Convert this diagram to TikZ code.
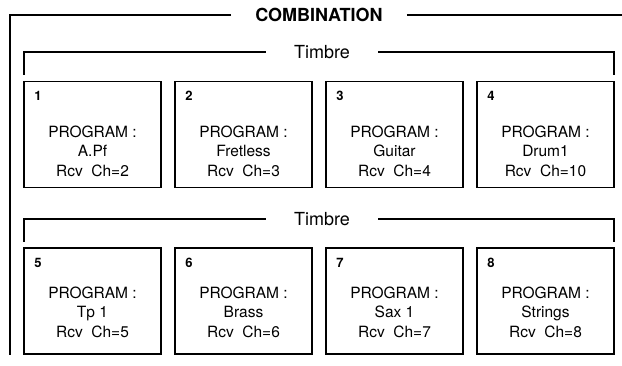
\documentclass[tikz,border=0pt]{standalone}
\usepackage{fontspec}
\setmainfont{TeX Gyre Heros}
\tikzset{
  prog/.style={draw, line width=1.7pt, minimum width=137pt, minimum height=106pt, inner sep=0pt},
  progtext/.style={align=center, font=\fontsize{15.5}{19.5}\selectfont},
  num/.style={anchor=west, inner sep=0pt, font=\fontsize{13}{13}\selectfont\bfseries},
  timbre/.style={inner xsep=28pt, inner ysep=0pt, font=\fontsize{18}{18}\selectfont},
  bracket/.style={line width=1.1pt}
}
\begin{document}
\begin{tikzpicture}[x=1pt,y=-1pt]
  \useasboundingbox (0,0) rectangle (622,366);
  % outer frame
  \node[inner xsep=24pt, inner ysep=0pt, font=\fontsize{18}{18}\selectfont\bfseries] (comb) at (319,15) {COMBINATION};
  \coordinate (fl) at (10,355);
  \coordinate (fr) at (622,15);
  \draw[line width=1.3pt] (comb.west) -| (fl);
  \draw[line width=1.3pt] (comb.east) -- (fr);
  % first timbre row
  \node[timbre] (t1) at (322,52) {Timbre};
  \coordinate (t1l) at (24,75);
  \coordinate (t1r) at (614,75);
  \draw[bracket] (t1.west) -| (t1l);
  \draw[bracket] (t1.east) -| (t1r);
  \node[prog] (b1) at (92.5,134.5) {};
  \node[prog] (b2) at (243.5,134.5) {};
  \node[prog] (b3) at (394.5,134.5) {};
  \node[prog] (b4) at (545.5,134.5) {};
  \node[num] (n1) at ([xshift=11pt,yshift=-15pt]b1.north west) {1};
  \node[num] (n2) at ([xshift=11pt,yshift=-15pt]b2.north west) {2};
  \node[num] (n3) at ([xshift=11pt,yshift=-15pt]b3.north west) {3};
  \node[num] (n4) at ([xshift=11pt,yshift=-15pt]b4.north west) {4};
  \node[progtext] (p1) at (92.5,151) {PROGRAM :\\A.Pf\\Rcv~~Ch=2};
  \node[progtext] (p2) at (243.5,151) {PROGRAM :\\Fretless\\Rcv~~Ch=3};
  \node[progtext] (p3) at (394.5,151) {PROGRAM :\\Guitar\\Rcv~~Ch=4};
  \node[progtext] (p4) at (545.5,151) {PROGRAM :\\Drum1\\Rcv~~Ch=10};
  % second timbre row
  \node[timbre] (t2) at (322,219) {Timbre};
  \coordinate (t2l) at (24,242);
  \coordinate (t2r) at (614,242);
  \draw[bracket] (t2.west) -| (t2l);
  \draw[bracket] (t2.east) -| (t2r);
  \node[prog] (b5) at (92.5,301) {};
  \node[prog] (b6) at (243.5,301) {};
  \node[prog] (b7) at (394.5,301) {};
  \node[prog] (b8) at (545.5,301) {};
  \node[num] (n5) at ([xshift=11pt,yshift=-16pt]b5.north west) {5};
  \node[num] (n6) at ([xshift=11pt,yshift=-16pt]b6.north west) {6};
  \node[num] (n7) at ([xshift=11pt,yshift=-16pt]b7.north west) {7};
  \node[num] (n8) at ([xshift=11pt,yshift=-16pt]b8.north west) {8};
  \node[progtext] (p5) at (92.5,312) {PROGRAM :\\Tp~1\\Rcv~~Ch=5};
  \node[progtext] (p6) at (243.5,312) {PROGRAM :\\Brass\\Rcv~~Ch=6};
  \node[progtext] (p7) at (394.5,312) {PROGRAM :\\Sax~1\\Rcv~~Ch=7};
  \node[progtext] (p8) at (545.5,312) {PROGRAM :\\Strings\\Rcv~~Ch=8};
\end{tikzpicture}
\end{document}
